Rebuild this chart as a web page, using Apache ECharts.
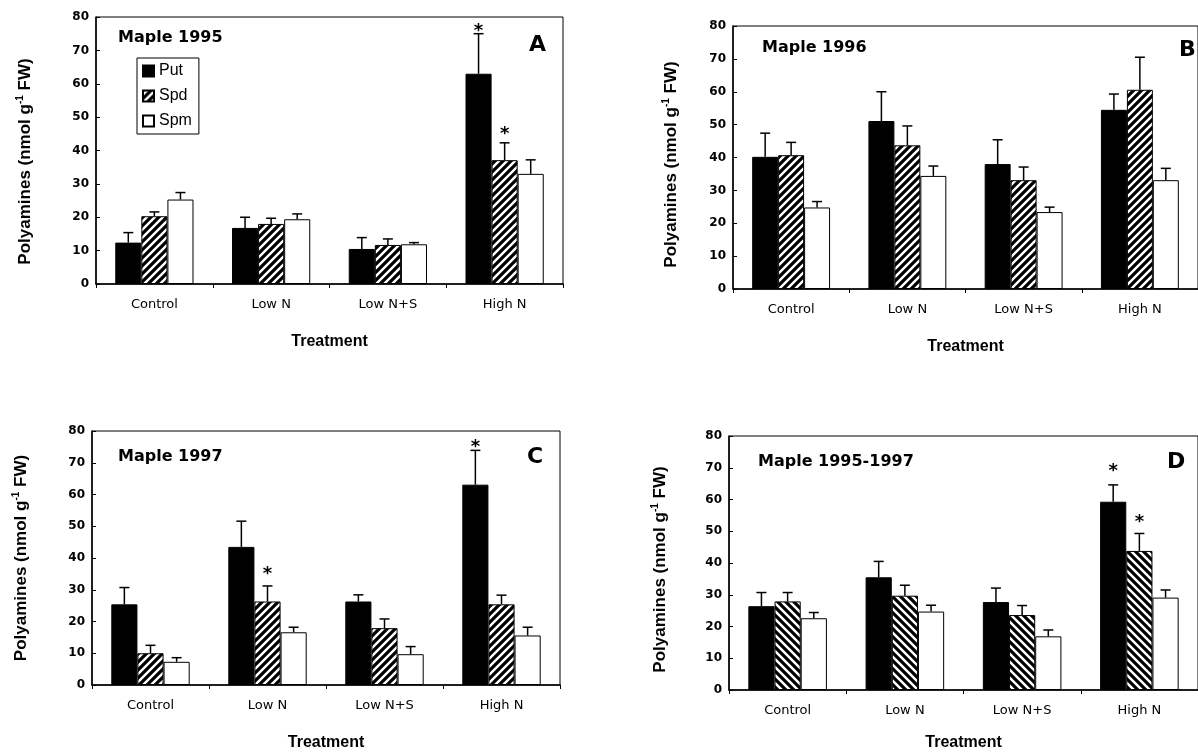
<!DOCTYPE html>
<html>
<head>
<meta charset="utf-8">
<script src="https://cdn.jsdelivr.net/npm/echarts@6/dist/echarts.min.js"></script>
<style>
  html, body { margin: 0; background: #fff; }
  #chart { width: 1198px; height: 754px; }
</style>
</head>
<body>
<div id="chart"></div>
<script>
const treatments = ['Control', 'Low N', 'Low N+S', 'High N'];
const amines = ['Put', 'Spd', 'Spm'];

// Maple 1995
const putA = [12.4, 16.8, 10.5, 63.0];
const spdA = [20.3, 18.0, 11.7, 37.1];
const spmA = [25.3, 19.4, 11.9, 33.0];
const putSeA = [3.0, 3.2, 3.4, 12.0];
const spdSeA = [1.3, 1.7, 1.8, 5.2];
const spmSeA = [2.1, 1.6, 0.5, 4.2];
const starsA = [[3, 0, 77], [3, 1, 46]]; // [treatment, amine, level]

// Maple 1996
const putB = [40.2, 51.1, 38.0, 54.5];
const spdB = [40.7, 43.7, 33.1, 60.6];
const spmB = [24.8, 34.4, 23.4, 33.1];
const putSeB = [7.2, 8.9, 7.4, 4.8];
const spdSeB = [3.9, 5.9, 4.0, 9.9];
const spmSeB = [1.8, 3.0, 1.5, 3.6];
const starsB = [];

// Maple 1997
const putC = [25.4, 43.5, 26.3, 63.1];
const spdC = [10.0, 26.3, 17.9, 25.4];
const spmC = [7.3, 16.6, 9.7, 15.6];
const putSeC = [5.3, 8.1, 2.1, 10.8];
const spdSeC = [2.5, 4.9, 2.9, 2.9];
const spmSeC = [1.3, 1.6, 2.4, 2.6];
const starsC = [[1, 1, 36], [3, 0, 76]];

// Maple 1995-1997
const putD = [26.4, 35.5, 27.7, 59.3];
const spdD = [27.9, 29.7, 23.6, 43.8];
const spmD = [22.6, 24.7, 16.9, 29.1];
const putSeD = [4.3, 5.0, 4.4, 5.3];
const spdSeD = [2.8, 3.3, 3.0, 5.5];
const spmSeD = [1.8, 2.0, 2.0, 2.4];
const starsD = [[3, 0, 70], [3, 1, 54]];

const panels = [
  { title: 'Maple 1995', tag: 'A', vals: [putA, spdA, spmA], se: [putSeA, spdSeA, spmSeA], stars: starsA },
  { title: 'Maple 1996', tag: 'B', vals: [putB, spdB, spmB], se: [putSeB, spdSeB, spmSeB], stars: starsB },
  { title: 'Maple 1997', tag: 'C', vals: [putC, spdC, spmC], se: [putSeC, spdSeC, spmSeC], stars: starsC },
  { title: 'Maple 1995-1997', tag: 'D', vals: [putD, spdD, spmD], se: [putSeD, spdSeD, spmSeD], stars: starsD },
];

// placement of each panel (pixels)
const boxes = [
  { left: 96, top: 17, width: 467, height: 267, yGap: 61, yPad: 22, xGap: 50, tx: 118, ty: 30, lx: 529, ly: 34, hatch: 1 },
  { left: 733, top: 26, width: 471, height: 263, yGap: 52, yPad: 14, xGap: 50, tx: 762, ty: 40, lx: 1179, ly: 39, hatch: 1 },
  { left: 92, top: 431, width: 468, height: 254, yGap: 61, yPad: 0, xGap: 50, tx: 118, ty: 449, lx: 527, ly: 446, hatch: 1 },
  { left: 729, top: 436, width: 470, height: 254, yGap: 59, yPad: 13, xGap: 45, tx: 758, ty: 454, lx: 1167, ly: 451, hatch: -1 },
];

const CAT_GAP = 0.33;

function hatch(dir) {
  const c = document.createElement('canvas');
  c.width = c.height = 8;
  const g = c.getContext('2d');
  g.fillStyle = '#fff';
  g.fillRect(0, 0, 8, 8);
  g.strokeStyle = '#000';
  g.lineWidth = 3.2;
  g.beginPath();
  if (dir > 0) {
    g.moveTo(-2, 2); g.lineTo(2, -2);
    g.moveTo(-2, 10); g.lineTo(10, -2);
    g.moveTo(6, 10); g.lineTo(10, 6);
  } else {
    g.moveTo(-2, -2); g.lineTo(10, 10);
    g.moveTo(-2, 6); g.lineTo(2, 10);
    g.moveTo(6, -2); g.lineTo(10, 2);
  }
  g.stroke();
  return { image: c, repeat: 'repeat' };
}

function barOffset(api, k) {
  const band = api.size([1, 0])[0];
  const bw = band * (1 - CAT_GAP) / 3;
  return (k - 1) * bw;
}

const grid = [], xAxis = [], yAxis = [], series = [], title = [];

panels.forEach((p, g) => {
  const b = boxes[g];
  grid.push({ left: b.left, top: b.top, width: b.width, height: b.height,
    show: true, borderColor: '#000', borderWidth: 1 });

  xAxis.push({
    type: 'category', gridIndex: g, data: treatments,
    axisLine: { lineStyle: { color: '#000', width: 1.5 } },
    axisTick: { show: true, length: 4, lineStyle: { color: '#000' } },
    axisLabel: { margin: 14, color: '#000', fontFamily: 'DejaVu Sans', fontSize: 13 },
    name: 'Treatment', nameLocation: 'middle', nameGap: b.xGap,
    nameTextStyle: { color: '#000', fontFamily: 'Liberation Sans', fontWeight: 'bold', fontSize: 16 },
  });

  yAxis.push({
    type: 'value', gridIndex: g, min: 0, max: 80, interval: 10,
    splitLine: { show: false },
    axisLine: { show: true, lineStyle: { color: '#000', width: 1.5 } },
    axisTick: { show: true, inside: true, length: 4, lineStyle: { color: '#000' } },
    axisLabel: { margin: 7, color: '#000', fontFamily: 'DejaVu Sans', fontWeight: 'bold', fontSize: 12 },
    name: '{a|Polyamines (nmol g}{s|-1}{a| FW)}',
    nameLocation: 'middle', nameRotate: 90, nameGap: b.yGap,
    nameTextStyle: {
      padding: [0, b.yPad, 0, 0],
      rich: {
        a: { fontFamily: 'Liberation Sans', fontWeight: 'bold', fontSize: 17, color: '#000', lineHeight: 20 },
        s: { fontFamily: 'Liberation Sans', fontWeight: 'bold', fontSize: 10, color: '#000', lineHeight: 10, verticalAlign: 'top' },
      },
    },
  });

  const fills = ['#000', hatch(b.hatch), '#fff'];
  amines.forEach((name, k) => {
    series.push({
      type: 'bar', name, xAxisIndex: g, yAxisIndex: g,
      data: p.vals[k],
      barGap: '0%', barCategoryGap: (CAT_GAP * 100) + '%',
      itemStyle: { color: fills[k], borderColor: '#000', borderWidth: 1 },
      emphasis: { disabled: true },
    });
  });

  // upper error bars
  const err = [];
  amines.forEach((_, k) => {
    p.vals[k].forEach((v, i) => err.push([i, k, v, p.se[k][i]]));
  });
  series.push({
    type: 'custom', xAxisIndex: g, yAxisIndex: g, z: 5, silent: true,
    encode: { x: 0, y: 2 },
    data: err,
    renderItem: (params, api) => {
      const cat = api.value(0), k = api.value(1), m = api.value(2), se = api.value(3);
      const base = api.coord([cat, m]);
      const top = api.coord([cat, m + se])[1];
      const x = base[0] + barOffset(api, k);
      return {
        type: 'group',
        children: [
          { type: 'line', shape: { x1: x, y1: base[1], x2: x, y2: top }, style: { stroke: '#000', lineWidth: 1.5 } },
          { type: 'line', shape: { x1: x - 5, y1: top, x2: x + 5, y2: top }, style: { stroke: '#000', lineWidth: 1.5 } },
        ],
      };
    },
  });

  // significance marks
  series.push({
    type: 'custom', xAxisIndex: g, yAxisIndex: g, z: 6, silent: true,
    encode: { x: 0, y: 2 },
    data: p.stars,
    renderItem: (params, api) => {
      const cat = api.value(0), k = api.value(1);
      const c = api.coord([cat, api.value(2)]);
      return {
        type: 'text',
        style: { text: '*', x: c[0] + barOffset(api, k), y: c[1] + 4, fill: '#000',
          font: 'bold 18px "DejaVu Sans"', align: 'center', verticalAlign: 'middle' },
      };
    },
  });

  title.push({ text: p.title, left: b.tx, top: b.ty, padding: 0,
    textStyle: { fontFamily: 'DejaVu Sans', fontWeight: 'bold', fontSize: 16, color: '#000' } });
  title.push({ text: p.tag, left: b.lx, top: b.ly, padding: 0,
    textStyle: { fontFamily: 'DejaVu Sans', fontWeight: 'bold', fontSize: 22, color: '#000' } });
});

const chart = echarts.init(document.getElementById('chart'));
chart.setOption({
  animation: false,
  backgroundColor: '#fff',
  title,
  legend: {
    data: amines, left: 137, top: 58, orient: 'vertical',
    itemWidth: 11, itemHeight: 11, itemGap: 9, padding: [5, 7, 5, 5],
    borderColor: '#000', borderWidth: 1, selectedMode: false,
    icon: 'rect',
    textStyle: { fontFamily: 'Liberation Sans', fontSize: 16, color: '#000' },
  },
  grid, xAxis, yAxis, series,
});
</script>
</body>
</html>
